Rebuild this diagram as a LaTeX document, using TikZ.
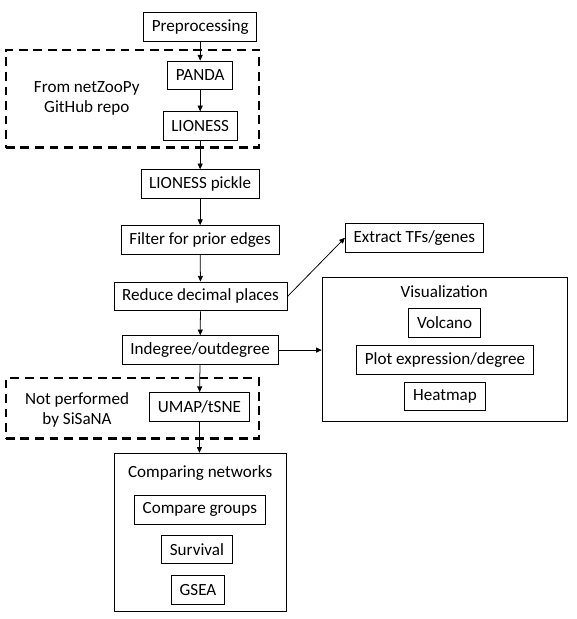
\documentclass[tikz,border=0pt]{standalone}
\usepackage{fontspec}
\setmainfont{Carlito}
\usepackage{tikz}
\usepackage{xcolor}
\usetikzlibrary{arrows.meta}

\begin{document}
\begin{tikzpicture}[
    font=\fontsize{13.5}{15.7}\selectfont,
    >={Triangle[length=4.5pt,width=4pt]},
    procbox/.style={draw, line width=0.7pt, rectangle, minimum height=0.8cm,
        inner xsep=6.5pt, inner ysep=2pt},
    groupbox/.style={draw, line width=0.7pt, rectangle},
    dashbox/.style={draw, line width=1.8pt, dash pattern=on 7pt off 4.5pt, rectangle},
    flow/.style={line width=0.6pt, ->},
]
\useasboundingbox (0, 0) rectangle (16, 17.194);

% Dashed groups
\node[dashbox, minimum width=7.03cm, minimum height=2.71cm] (netzoo) at (3.68, 14.45) {};
\node[align=center] (netzootext) at (2.41, 14.47) {From netZooPy\\GitHub repo};
\node[dashbox, minimum width=7.03cm, minimum height=1.67cm] (notsisana) at (3.68, 5.85) {};
\node[align=center] (notsisanatext) at (2.14, 5.81) {Not performed\\by SiSaNA};

% Main pipeline
\node[procbox] (prep) at (5.56, 16.44) {Preprocessing};
\node[procbox, fill=white] (panda) at (5.56, 15.10) {PANDA};
\node[procbox, fill=white] (lioness) at (5.56, 13.69) {LIONESS};
\node[procbox] (pickle) at (5.56, 12.08) {LIONESS pickle};
\node[procbox] (filter) at (5.56, 10.53) {Filter for prior edges};
\node[procbox] (reduce) at (5.57, 8.96) {Reduce decimal places};
\node[procbox] (indeg) at (5.56, 7.47) {Indegree/outdegree};
\node[procbox, fill=white] (umap) at (5.54, 5.89) {UMAP/tSNE};

% Side branch
\node[procbox] (extract) at (11.51, 10.59) {Extract TFs/genes};

% Visualization group
\node[groupbox, minimum width=6.82cm, minimum height=4.01cm] (vis) at (12.36, 7.48) {};
\node (vistitle) at (12.34, 9.09) {Visualization};
\node[procbox] (volcano) at (12.35, 8.23) {Volcano};
\node[procbox] (plotexpr) at (12.36, 7.20) {Plot expression/degree};
\node[procbox] (heatmap) at (12.36, 6.18) {Heatmap};

% Comparing networks group
\node[groupbox, minimum width=4.78cm, minimum height=4.39cm] (compare) at (5.56, 2.41) {};
\node (comparetitle) at (5.56, 4.05) {Comparing networks};
\node[procbox] (groups) at (5.55, 3.03) {Compare groups};
\node[procbox] (survival) at (5.47, 1.93) {Survival};
\node[procbox] (gsea) at (5.50, 0.81) {GSEA};

% Arrows
\draw[flow] (prep) -- (panda);
\draw[flow] (panda) -- (lioness);
\draw[flow] (lioness) -- (pickle);
\draw[flow] (pickle) -- (filter);
\draw[flow] (filter) -- (reduce);
\draw[flow] (reduce) -- (indeg);
\draw[flow] (indeg) -- (umap);
\draw[flow] (umap) -- (umap |- compare.north);
\draw[flow] (reduce.east) -- (extract.west);
\draw[flow] (indeg.east) -- (indeg -| vis.west);

\end{tikzpicture}
\end{document}
